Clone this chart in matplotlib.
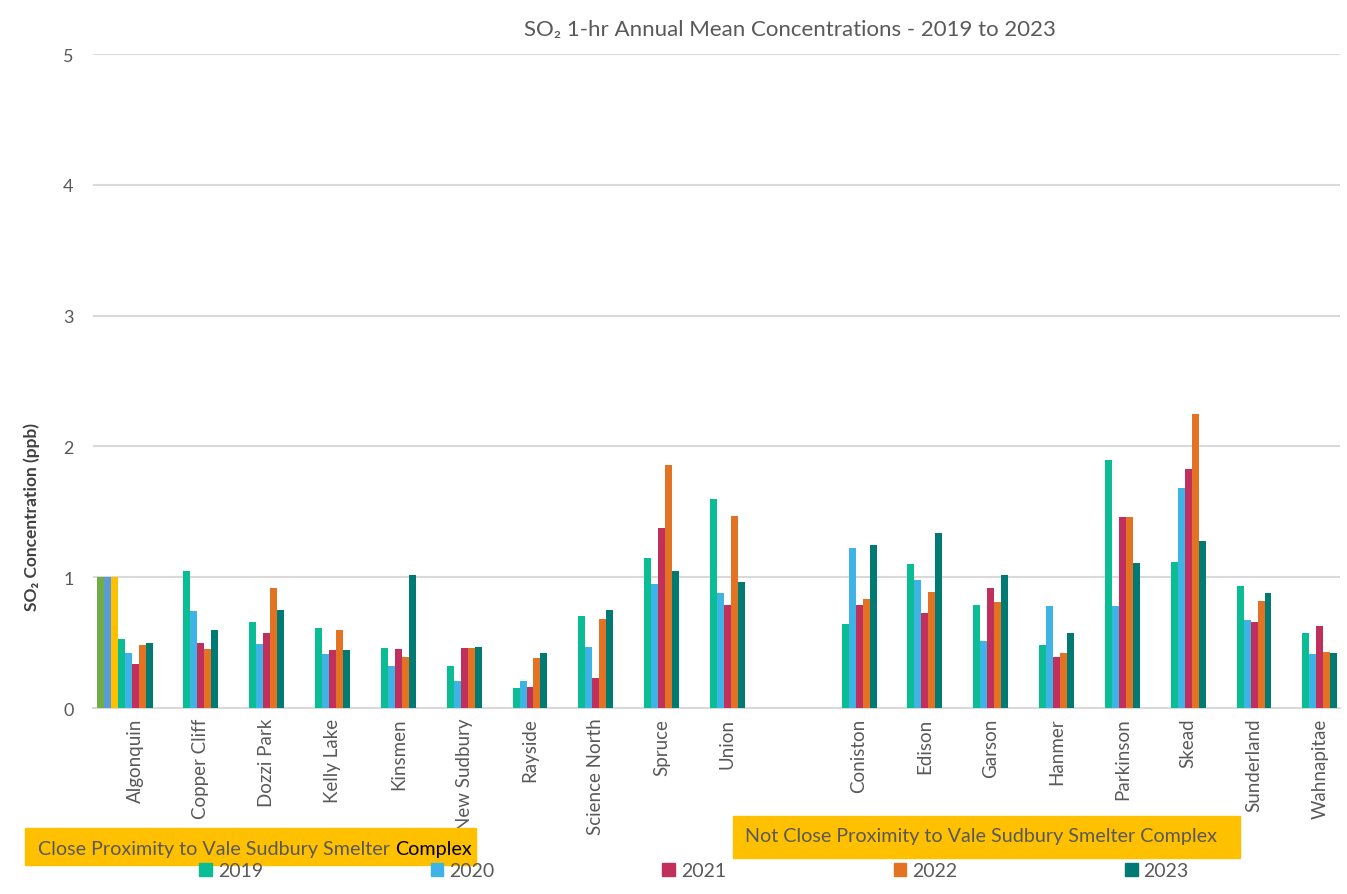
import matplotlib
matplotlib.use("Agg")
import matplotlib.pyplot as plt
from matplotlib.patches import Rectangle, Patch
import numpy as np

plt.rcParams["font.family"] = ["Lato", "DejaVu Sans"]

# stations near the smelter, then the outlying ones
close_sites = ["Algonquin", "Copper Cliff", "Dozzi Park", "Kelly Lake", "Kinsmen",
               "New Sudbury", "Rayside", "Science North", "Spruce", "Union"]
far_sites = ["Coniston", "Edison", "Garson", "Hanmer", "Parkinson", "Skead",
             "Sunderland", "Wahnapitae"]

years = ["2019", "2020", "2021", "2022", "2023"]
year_colors = ["#0ABD95", "#3DB4E5", "#C1305C", "#E37222", "#007B73"]

# annual means (ppb), one list per year, close sites followed by far sites
so2_2019 = [0.53, 1.05, 0.66, 0.61, 0.46, 0.32, 0.15, 0.70, 1.15, 1.60,
            0.64, 1.10, 0.79, 0.48, 1.90, 1.12, 0.93, 0.57]
so2_2020 = [0.42, 0.74, 0.49, 0.41, 0.32, 0.21, 0.21, 0.47, 0.95, 0.88,
            1.22, 0.98, 0.51, 0.78, 0.78, 1.68, 0.67, 0.41]
so2_2021 = [0.34, 0.50, 0.57, 0.44, 0.45, 0.46, 0.16, 0.23, 1.38, 0.79,
            0.79, 0.73, 0.92, 0.39, 1.46, 1.83, 0.66, 0.63]
so2_2022 = [0.48, 0.45, 0.92, 0.60, 0.39, 0.46, 0.38, 0.68, 1.86, 1.47,
            0.83, 0.89, 0.81, 0.42, 1.46, 2.25, 0.82, 0.43]
so2_2023 = [0.50, 0.60, 0.75, 0.44, 1.02, 0.47, 0.42, 0.75, 1.05, 0.96,
            1.25, 1.34, 1.02, 0.57, 1.11, 1.28, 0.88, 0.42]
series = [so2_2019, so2_2020, so2_2021, so2_2022, so2_2023]

# stray placeholder series that only show up at the first station
extra_vals = [1.0, 1.0, 1.0]
extra_colors = ["#70AD47", "#5B9BD5", "#FFC000"]

labels = close_sites + [""] + far_sites
pos = np.concatenate([np.arange(len(close_sites)),
                      np.arange(len(far_sites)) + len(close_sites) + 1])

fig = plt.figure(figsize=(13.47, 8.95), dpi=100)
ax = fig.add_axes([0.069, 0.2078, 0.926, 0.7307])

w = 0.106
for i, (vals, c) in enumerate(zip(series, year_colors)):
    ax.bar(pos + (i - 2) * w, vals, width=w, color=c, label=years[i], zorder=3)
for j, (v, c) in enumerate(zip(extra_vals, extra_colors)):
    ax.bar(pos[0] + (j - 5) * w, v, width=w, color=c, zorder=3)

ax.set_ylim(0, 5)
ax.set_xlim(-0.64, 18.31)
ax.set_yticks(range(6))
ax.set_xticks(np.arange(len(labels)))
ax.set_xticklabels(labels, rotation=90, fontsize=13.5, color="#595959")
ax.tick_params(axis="y", labelsize=13, labelcolor="#595959", pad=14)
ax.tick_params(length=0)
ax.tick_params(axis="x", pad=7)
ax.grid(axis="y", color="#D9D9D9", linewidth=1.5, zorder=0)
for s in ["top", "right", "left"]:
    ax.spines[s].set_visible(False)
ax.spines["bottom"].set_color("#D9D9D9")
ax.spines["bottom"].set_linewidth(1.5)

fig.text(790 / 1347, 1 - 30 / 895, "SO\u2082 1-hr Annual Mean Concentrations - 2019 to 2023",
         ha="center", va="center", fontsize=16, color="#595959")
fig.text(32 / 1347, 1 - 517 / 895, "SO\u2082 Concentration (ppb)", rotation=90,
         ha="center", va="center", fontsize=12.5, fontweight="bold", color="#404040")

# group banners
fig.add_artist(Rectangle((25 / 1347, 1 - 866 / 895), 451 / 1347, 37 / 895,
                         transform=fig.transFigure, color="#FFC000", zorder=5))
t1 = fig.text(38 / 1347, 1 - 849 / 895, "Close Proximity to Vale Sudbury Smelter ",
              ha="left", va="center", fontsize=14.2, color="#595959", zorder=6)
fig.canvas.draw()
bb = t1.get_window_extent()
fig.text(bb.x1 / 1347, 1 - 849 / 895, "Complex", ha="left", va="center",
         fontsize=14.2, color="black", zorder=6)
fig.add_artist(Rectangle((733 / 1347, 1 - 859 / 895), 507 / 1347, 42 / 895,
                         transform=fig.transFigure, color="#FFC000", zorder=5))
fig.text(981 / 1347, 1 - 837 / 895, "Not Close Proximity to Vale Sudbury Smelter Complex",
         ha="center", va="center", fontsize=14.2, color="#595959", zorder=6)

handles = [Patch(color=c) for c in year_colors]
fig.legend(handles, years, loc="center", bbox_to_anchor=(694 / 1347, 1 - 872 / 895),
           ncol=5, frameon=False, fontsize=14, handlelength=0.65, handleheight=0.65,
           handletextpad=0.3, columnspacing=8.63, labelcolor="#595959")

fig.savefig("out.png", dpi=100)
